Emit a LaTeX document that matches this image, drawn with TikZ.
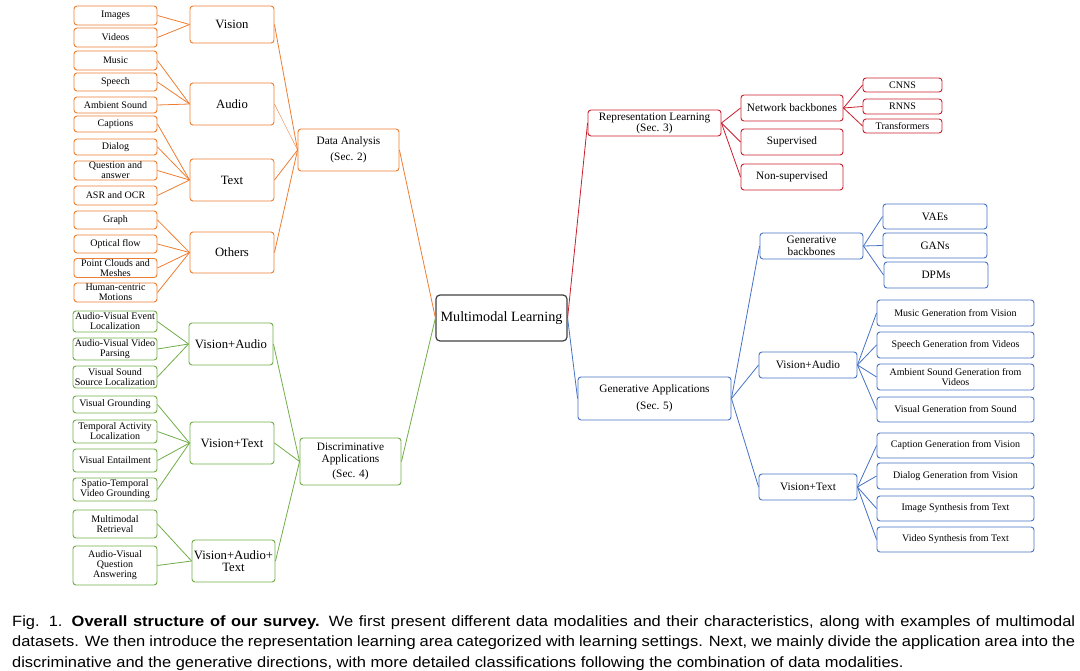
\documentclass[tikz,border=0pt]{standalone}
\usepackage{fontspec}
\setmainfont{Liberation Serif}
\newfontfamily\capfont[FakeStretch=1.104]{Liberation Sans}
\usetikzlibrary{positioning}
\definecolor{orangeln}{RGB}{237,125,49}
\definecolor{greenln}{RGB}{112,173,71}
\definecolor{redln}{RGB}{200,30,45}
\definecolor{blueln}{RGB}{68,114,196}
\definecolor{rootln}{RGB}{64,64,64}
\tikzset{box/.style={draw,rounded corners=3pt,align=center,inner sep=1pt,line width=0.9pt}}
\tikzset{leaf/.style={box,font=\fontsize{10}{10}\selectfont}}
\tikzset{modal/.style={box,font=\fontsize{12.7}{12}\selectfont}}
\tikzset{sub/.style={box,font=\fontsize{11.3}{12.5}\selectfont}}
\tikzset{sec/.style={box,font=\fontsize{11.3}{15.5}\selectfont}}
\tikzset{link/.style={line width=0.8pt}}
\newcommand\capline[1]{\makebox[1063pt][s]{#1}}

\begin{document}
\begin{tikzpicture}[x=1pt,y=-1pt]
	\useasboundingbox (0,0) rectangle (1080,671);
	% root
	\node[box,draw=rootln,line width=1.2pt,rounded corners=4pt,minimum width=131pt,minimum height=46pt,font=\fontsize{14.2}{16}\selectfont] (ml) at (501.5,318) {Multimodal Learning};
	% data analysis
	\node[sec,draw=orangeln,minimum width=101pt,minimum height=42pt] (da) at (348.5,150) {Data Analysis\\(Sec. 2)};
	\node[modal,draw=orangeln,minimum width=84pt,minimum height=37pt] (vis) at (232,24.5) {Vision};
	\node[modal,draw=orangeln,minimum width=84pt,minimum height=42pt] (aud) at (232,104) {Audio};
	\node[modal,draw=orangeln,minimum width=84pt,minimum height=42pt] (txt) at (232,180) {Text};
	\node[modal,draw=orangeln,minimum width=84pt,minimum height=41pt] (oth) at (232,252.5) {Others};
	\node[leaf,draw=orangeln,minimum width=83pt,minimum height=19pt] (img) at (115.5,15.5) {Images};
	\node[leaf,draw=orangeln,minimum width=83pt,minimum height=19pt] (vid) at (115.5,37.5) {Videos};
	\node[leaf,draw=orangeln,minimum width=83pt,minimum height=19pt] (mus) at (115.5,60.5) {Music};
	\node[leaf,draw=orangeln,minimum width=83pt,minimum height=18pt] (spe) at (115.5,82) {Speech};
	\node[leaf,draw=orangeln,minimum width=83pt,minimum height=16pt] (amb) at (115.5,105) {Ambient Sound};
	\node[leaf,draw=orangeln,minimum width=83pt,minimum height=16pt] (capt) at (115.5,124) {Captions};
	\node[leaf,draw=orangeln,minimum width=83pt,minimum height=16pt] (dia) at (115.5,147) {Dialog};
	\node[leaf,draw=orangeln,minimum width=83pt,minimum height=19pt] (qa) at (115.5,170.5) {Question and\\answer};
	\node[leaf,draw=orangeln,minimum width=83pt,minimum height=19pt] (asr) at (115.5,195.5) {ASR and OCR};
	\node[leaf,draw=orangeln,minimum width=83pt,minimum height=18pt] (gra) at (115.5,220) {Graph};
	\node[leaf,draw=orangeln,minimum width=83pt,minimum height=18pt] (opt) at (115.5,244) {Optical flow};
	\node[leaf,draw=orangeln,minimum width=83pt,minimum height=18pt] (pcm) at (115.5,268) {Point Clouds and\\Meshes};
	\node[leaf,draw=orangeln,minimum width=83pt,minimum height=19pt] (hcm) at (115.5,292.5) {Human-centric\\Motions};
	\foreach \n in {img,vid} \draw[link,orangeln] (\n.east) -- (vis.west);
	\foreach \n in {mus,spe,amb} \draw[link,orangeln] (\n.east) -- (aud.west);
	\foreach \n in {capt,dia,qa,asr} \draw[link,orangeln] (\n.east) -- (txt.west);
	\foreach \n in {gra,opt,pcm,hcm} \draw[link,orangeln] (\n.east) -- (oth.west);
	\foreach \n in {vis,txt,oth} \draw[link,orangeln] (\n.east) -- (da.west);
	\draw[orangeln,line width=0.4pt] (aud.east) -- (da.west);
	\draw[link,orangeln] (da.east) -- (ml.west);
	% discriminative applications
	\node[sec,draw=greenln,minimum width=101pt,minimum height=47pt] (dis) at (350.5,461.5) {Discriminative\\[-3.5pt]Applications\\(Sec. 4)};
	\node[modal,draw=greenln,minimum width=84pt,minimum height=42pt] (gva) at (231,344) {Vision+Audio};
	\node[modal,draw=greenln,minimum width=84pt,minimum height=42pt] (gvt) at (232,443) {Vision+Text};
	\node[modal,draw=greenln,minimum width=83pt,minimum height=42pt] (gvat) at (233.5,561) {Vision+Audio+\\Text};
	\node[leaf,draw=greenln,minimum width=84pt,minimum height=21pt] (avel) at (115,321.5) {Audio-Visual Event\\Localization};
	\node[leaf,draw=greenln,minimum width=84pt,minimum height=22pt] (avvp) at (115,349) {Audio-Visual Video\\Parsing};
	\node[leaf,draw=greenln,minimum width=84pt,minimum height=22pt] (vssl) at (115,377) {Visual Sound\\Source Localization};
	\node[leaf,draw=greenln,minimum width=84pt,minimum height=17pt] (vgr) at (115,404.5) {Visual Grounding};
	\node[leaf,draw=greenln,minimum width=84pt,minimum height=23pt] (tal) at (115,431.5) {Temporal Activity\\Localization};
	\node[leaf,draw=greenln,minimum width=84pt,minimum height=23pt] (ven) at (115,460.5) {Visual Entailment};
	\node[leaf,draw=greenln,minimum width=84pt,minimum height=23pt] (stvg) at (115,489.5) {Spatio-Temporal\\Video Grounding};
	\node[leaf,draw=greenln,minimum width=84pt,minimum height=28pt] (mmr) at (115,524) {Multimodal\\Retrieval};
	\node[leaf,draw=greenln,minimum width=84pt,minimum height=39pt] (avqa) at (115,565.5) {Audio-Visual\\Question\\Answering};
	\foreach \n in {avel,avvp,vssl} \draw[link,greenln] (\n.east) -- (gva.west);
	\foreach \n in {vgr,tal,ven,stvg} \draw[link,greenln] (\n.east) -- (gvt.west);
	\foreach \n in {mmr,avqa} \draw[link,greenln] (\n.east) -- (gvat.west);
	\foreach \n in {gva,gvt,gvat} \draw[link,greenln] (\n.east) -- (dis.west);
	\draw[link,greenln] (dis.east) -- (ml.west);
	% representation learning
	\node[sec,draw=redln,minimum width=133pt,minimum height=26pt,font=\fontsize{11.3}{12}\selectfont] (rl) at (654.5,123) {Representation Learning\\[-1pt](Sec. 3)};
	\node[sub,draw=redln,minimum width=102pt,minimum height=26pt] (nb) at (792,108) {Network backbones};
	\node[sub,draw=redln,minimum width=102pt,minimum height=26pt] (sup) at (792,142) {Supervised};
	\node[sub,draw=redln,minimum width=102pt,minimum height=26pt] (nsup) at (792,177) {Non-supervised};
	\node[leaf,draw=redln,minimum width=79pt,minimum height=14pt] (cnn) at (902.5,85) {CNNS};
	\node[leaf,draw=redln,minimum width=79pt,minimum height=15pt] (rnn) at (902.5,106.5) {RNNS};
	\node[leaf,draw=redln,minimum width=79pt,minimum height=14pt] (trf) at (902.5,126) {Transformers};
	\foreach \n in {cnn,rnn,trf} \draw[link,redln] (nb.east) -- (\n.west);
	\foreach \n in {nb,sup,nsup} \draw[link,redln] (rl.east) -- (\n.west);
	\draw[link,redln] (ml.east) -- (rl.west);
	% generative applications
	\node[sec,draw=blueln,minimum width=153pt,minimum height=43pt] (ga) at (654.5,398.5) {Generative Applications\\[1pt](Sec. 5)};
	\node[sub,draw=blueln,minimum width=103pt,minimum height=26pt] (gb) at (811.5,246) {Generative\\backbones};
	\node[sub,draw=blueln,minimum width=104pt,minimum height=25pt] (vae) at (935,216.5) {VAEs};
	\node[sub,draw=blueln,minimum width=104pt,minimum height=25pt] (gan) at (935,245.5) {GANs};
	\node[sub,draw=blueln,minimum width=104pt,minimum height=26pt] (dpm) at (936,275) {DPMs};
	\node[sub,draw=blueln,minimum width=98pt,minimum height=26pt] (bva) at (808,365) {Vision+Audio};
	\node[sub,draw=blueln,minimum width=98pt,minimum height=26pt] (bvt) at (808,487) {Vision+Text};
	\node[leaf,draw=blueln,minimum width=157pt,minimum height=26pt] (mgv) at (955.5,313) {Music Generation from Vision};
	\node[leaf,draw=blueln,minimum width=157pt,minimum height=26pt] (sgv) at (955.5,345) {Speech Generation from Videos};
	\node[leaf,draw=blueln,minimum width=157pt,minimum height=26pt] (asg) at (955.5,377) {Ambient Sound Generation from\\Videos};
	\node[leaf,draw=blueln,minimum width=157pt,minimum height=25pt] (vgs) at (955.5,409.5) {Visual Generation from Sound};
	\node[leaf,draw=blueln,minimum width=157pt,minimum height=25pt] (cgv) at (955.5,445.5) {Caption Generation from Vision};
	\node[leaf,draw=blueln,minimum width=157pt,minimum height=26pt] (dgv) at (955.5,476) {Dialog Generation from Vision};
	\node[leaf,draw=blueln,minimum width=157pt,minimum height=25pt] (ist) at (955.5,508.5) {Image Synthesis from Text};
	\node[leaf,draw=blueln,minimum width=157pt,minimum height=25pt] (vst) at (955.5,539.5) {Video Synthesis from Text};
	\foreach \n in {vae,gan,dpm} \draw[link,blueln] (gb.east) -- (\n.west);
	\foreach \n in {mgv,sgv,asg,vgs} \draw[link,blueln] (bva.east) -- (\n.west);
	\foreach \n in {cgv,dgv,ist,vst} \draw[link,blueln] (bvt.east) -- (\n.west);
	\foreach \n in {gb,bva,bvt} \draw[link,blueln] (ga.east) -- (\n.west);
	\draw[link,blueln] (ml.east) -- (ga.west);
	% caption
	\node[anchor=north west,inner sep=0pt,align=left,font=\capfont\fontsize{14.9}{20.4}\selectfont] (figcap) at (12,615.5) {\capline{Fig. 1. \textbf{Overall structure of our survey.} We first present different data modalities and their characteristics, along with examples of multimodal}\\\capline{datasets. We then introduce the representation learning area categorized with learning settings. Next, we mainly divide the application area into the}\\discriminative and the generative directions, with more detailed classifications following the combination of data modalities.};
\end{tikzpicture}
\end{document}
